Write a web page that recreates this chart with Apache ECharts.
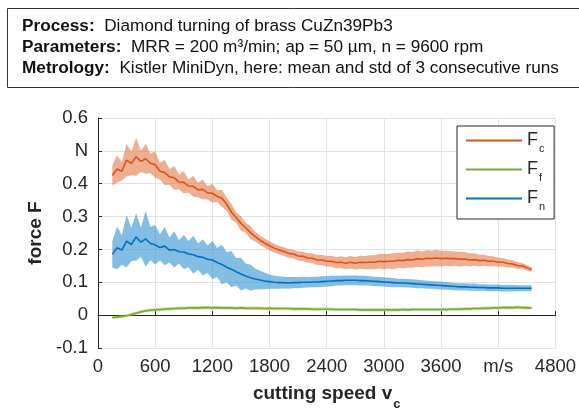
<!DOCTYPE html>
<html>
<head>
<meta charset="utf-8">
<script src="https://cdn.jsdelivr.net/npm/echarts@6/dist/echarts.min.js"></script>
<style>html,body{margin:0;padding:0;background:#fff}#c{width:579px;height:416px}</style>
</head>
<body>
<div id="c"></div>
<script>
// cutting speed samples (m/s)
const speeds = [150,200,250,300,350,400,450,500,550,600,
  650,700,750,800,850,900,950,1000,1050,1100,
  1150,1200,1250,1300,1350,1400,1450,1500,1550,1600,
  1650,1700,1750,1800,1850,1900,1950,2000,2050,2100,
  2150,2200,2250,2300,2350,2400,2450,2500,2550,2600,
  2650,2700,2750,2800,2850,2900,2950,3000,3050,3100,
  3150,3200,3250,3300,3350,3400,3450,3500,3550,3600,
  3650,3700,3750,3800,3850,3900,3950,4000,4050,4100,
  4150,4200,4250,4300,4350,4400,4450,4500,4550];
// F_c mean and std (N)
const fcMean = [0.425,0.445,0.438,0.472,0.462,0.482,0.468,0.476,0.462,0.458,
  0.438,0.434,0.421,0.418,0.405,0.404,0.393,0.392,0.381,0.383,
  0.372,0.371,0.362,0.356,0.338,0.314,0.297,0.279,0.266,0.251,
  0.239,0.228,0.219,0.211,0.204,0.198,0.194,0.188,0.186,0.180,
  0.179,0.174,0.173,0.168,0.168,0.164,0.164,0.160,0.161,0.158,
  0.161,0.158,0.161,0.160,0.161,0.161,0.164,0.163,0.164,0.164,
  0.167,0.166,0.169,0.168,0.172,0.170,0.173,0.172,0.174,0.172,
  0.173,0.172,0.172,0.170,0.171,0.168,0.169,0.166,0.167,0.164,
  0.164,0.161,0.161,0.157,0.156,0.151,0.150,0.144,0.139];
const fcStd = [0.030,0.042,0.028,0.050,0.036,0.058,0.032,0.046,0.030,0.040,
  0.026,0.038,0.024,0.036,0.022,0.034,0.020,0.032,0.022,0.030,
  0.020,0.028,0.018,0.026,0.020,0.024,0.016,0.022,0.015,0.020,
  0.015,0.014,0.014,0.014,0.013,0.013,0.013,0.013,0.013,0.014,
  0.014,0.014,0.015,0.015,0.016,0.016,0.017,0.017,0.018,0.018,
  0.019,0.019,0.020,0.020,0.021,0.021,0.022,0.023,0.022,0.024,
  0.023,0.024,0.025,0.024,0.025,0.024,0.025,0.024,0.025,0.024,
  0.023,0.023,0.022,0.022,0.021,0.020,0.019,0.018,0.017,0.016,
  0.015,0.014,0.013,0.012,0.011,0.010,0.009,0.008,0.007];
// F_f mean and std (N)
const ffMean = [-0.007,-0.006,-0.004,-0.002,0.002,0.006,0.010,0.013,0.015,0.016,
  0.017,0.018,0.019,0.020,0.021,0.021,0.022,0.022,0.022,0.023,
  0.023,0.022,0.023,0.022,0.022,0.022,0.021,0.022,0.021,0.021,
  0.021,0.021,0.020,0.021,0.020,0.020,0.020,0.020,0.019,0.019,
  0.019,0.019,0.018,0.018,0.018,0.018,0.018,0.017,0.017,0.017,
  0.017,0.017,0.016,0.016,0.016,0.016,0.016,0.016,0.016,0.016,
  0.016,0.017,0.016,0.017,0.017,0.017,0.017,0.017,0.017,0.017,
  0.017,0.018,0.018,0.018,0.019,0.019,0.020,0.020,0.021,0.021,
  0.022,0.022,0.023,0.023,0.023,0.024,0.023,0.022,0.022];
const ffStd = [0.004,0.004,0.005,0.004,0.005,0.005,0.004,0.005,0.005,0.005,
  0.005,0.005,0.005,0.005,0.005,0.005,0.005,0.005,0.005,0.005,
  0.005,0.005,0.005,0.005,0.005,0.005,0.005,0.005,0.005,0.005,
  0.005,0.005,0.005,0.005,0.005,0.005,0.005,0.005,0.005,0.005,
  0.005,0.005,0.005,0.005,0.005,0.005,0.005,0.005,0.005,0.005,
  0.005,0.005,0.005,0.005,0.005,0.005,0.005,0.005,0.005,0.005,
  0.005,0.005,0.005,0.005,0.005,0.005,0.005,0.005,0.005,0.005,
  0.005,0.005,0.005,0.005,0.005,0.005,0.005,0.005,0.005,0.005,
  0.005,0.005,0.005,0.005,0.005,0.005,0.005,0.005,0.004];
// F_n mean and std (N)
const fnMean = [0.185,0.205,0.198,0.225,0.215,0.238,0.222,0.232,0.218,0.214,
  0.206,0.210,0.198,0.200,0.193,0.192,0.186,0.184,0.178,0.176,
  0.170,0.168,0.160,0.154,0.146,0.140,0.132,0.125,0.119,0.114,
  0.110,0.107,0.104,0.102,0.100,0.099,0.099,0.098,0.099,0.099,
  0.100,0.100,0.101,0.101,0.102,0.103,0.104,0.105,0.105,0.106,
  0.106,0.106,0.105,0.105,0.104,0.103,0.102,0.101,0.100,0.099,
  0.098,0.098,0.097,0.096,0.095,0.094,0.093,0.092,0.091,0.090,
  0.089,0.088,0.087,0.086,0.086,0.085,0.085,0.084,0.084,0.083,
  0.083,0.083,0.082,0.082,0.082,0.082,0.082,0.082,0.082];
const fnStd = [0.040,0.065,0.045,0.080,0.050,0.072,0.045,0.085,0.050,0.060,
  0.040,0.058,0.038,0.055,0.036,0.052,0.040,0.058,0.040,0.055,
  0.042,0.058,0.044,0.060,0.046,0.055,0.042,0.050,0.038,0.040,
  0.032,0.028,0.025,0.022,0.020,0.019,0.018,0.018,0.017,0.017,
  0.017,0.016,0.016,0.016,0.016,0.016,0.016,0.015,0.015,0.015,
  0.015,0.015,0.015,0.015,0.014,0.014,0.014,0.014,0.014,0.014,
  0.013,0.013,0.013,0.013,0.013,0.012,0.012,0.012,0.012,0.012,
  0.012,0.011,0.011,0.011,0.011,0.011,0.011,0.010,0.010,0.010,
  0.010,0.010,0.010,0.010,0.010,0.009,0.009,0.009,0.009];
const xTickLabels = {0:'0',600:'600',1200:'1200',1800:'1800',2400:'2400',3000:'3000',3600:'3600',4200:'m/s',4800:'4800'};
const yTickLabels = {'-0.1':'-0.1','0':'0','0.1':'0.1','0.2':'0.2','0.3':'0.3','0.4':'0.4','0.5':'N','0.6':'0.6'};

const forces = [
  {name:'Fc', mean:fcMean, std:fcStd, line:'#D95319', band:'rgba(230,120,70,0.6)'},
  {name:'Fn', mean:fnMean, std:fnStd, line:'#0072BD', band:'rgba(50,145,210,0.6)'},
  {name:'Ff', mean:ffMean, std:ffStd, line:'#77AC30', band:'rgba(140,190,80,0.5)'}
];

const series = [];
forces.forEach(f => {
  series.push({
    type:'custom', silent:true, z:1, clip:true,
    data:[[speeds[0], f.mean[0]]],
    renderItem:(params, api) => {
      const up = speeds.map((v,i) => api.coord([v, f.mean[i] + f.std[i]]));
      const lo = speeds.map((v,i) => api.coord([v, f.mean[i] - f.std[i]])).reverse();
      return {type:'polygon', shape:{points: up.concat(lo)}, style:{fill:f.band, stroke:null}};
    }
  });
});
forces.forEach(f => {
  series.push({name:f.name, type:'line', showSymbol:false, symbol:'none', color:f.line,
    lineStyle:{color:f.line, width:1.6}, data: speeds.map((v,i)=>[v, f.mean[i]]), z:3});
});

const FONT = 'Liberation Sans, Arial, sans-serif';
const chart = echarts.init(document.getElementById('c'), null, {renderer:'canvas'});
chart.setOption({
  animation:false,
  backgroundColor:'#fff',
  textStyle:{fontFamily:FONT},
  title:{
    left:17, top:10.5,
    text:'{b|Process:}  Diamond turning of brass CuZn39Pb3\n{b|Parameters:}  MRR = 200 m³/min; ap = 50 µm, n = 9600 rpm\n{b|Metrology:}  Kistler MiniDyn, here: mean and std of 3 consecutive runs',
    textStyle:{fontSize:17.2, fontWeight:'normal', color:'#111', lineHeight:21, fontFamily:FONT,
      rich:{b:{fontWeight:'bold', fontSize:17.2, color:'#111', lineHeight:21, fontFamily:FONT}}}
  },
  graphic:[{type:'rect', z:-1, shape:{x:7.5, y:8.5, width:620, height:79}, style:{fill:'#fff', stroke:'#333', lineWidth:1}}],
  grid:{left:98, right:19, top:118, bottom:65},
  legend:{
    data:['Fc','Ff','Fn'], orient:'vertical', left:457, top:126,
    backgroundColor:'#fff', borderColor:'#262626', borderWidth:1, borderRadius:0,
    padding:[5.5,9,6.5,9], itemGap:6, icon:'rect', itemWidth:56, itemHeight:2, itemStyle:{borderWidth:0},
    formatter: n => '{F|F}{s|' + n.slice(1) + '}',
    textStyle:{color:'#262626', rich:{
      F:{fontSize:18, lineHeight:18, verticalAlign:'top', color:'#262626', fontFamily:FONT},
      s:{fontSize:11, lineHeight:11, verticalAlign:'top', padding:[12,0,0,1], color:'#262626', fontFamily:FONT}}}
  },
  xAxis:{
    type:'value', min:0, max:4800, interval:600,
    name:'{b|cutting speed v}{s|c}', nameLocation:'middle', nameGap:36,
    nameTextStyle:{rich:{
      b:{fontSize:19, fontWeight:'bold', color:'#262626', lineHeight:20, verticalAlign:'top', fontFamily:FONT},
      s:{fontSize:13, fontWeight:'bold', color:'#262626', lineHeight:13, verticalAlign:'top', padding:[14,0,0,1], fontFamily:FONT}}},
    axisLine:{lineStyle:{color:'#262626', width:1}},
    axisTick:{inside:true, length:4, lineStyle:{color:'#262626'}},
    axisLabel:{fontSize:18.5, color:'#262626', margin:9, formatter: v => xTickLabels[v] !== undefined ? xTickLabels[v] : ''},
    splitLine:{show:true, lineStyle:{color:'#e3e3e3', width:1}}
  },
  yAxis:{
    type:'value', min:-0.1, max:0.6, interval:0.1,
    name:'force F', nameLocation:'middle', nameGap:53, nameRotate:90,
    nameTextStyle:{fontSize:19, fontWeight:'bold', color:'#262626', fontFamily:FONT},
    axisLine:{show:true, lineStyle:{color:'#262626', width:1}},
    axisTick:{show:true, inside:true, length:4, lineStyle:{color:'#262626'}},
    axisLabel:{fontSize:18.5, color:'#262626', margin:10, formatter: v => { const k = String(Math.round(v*10)/10); return yTickLabels[k] !== undefined ? yTickLabels[k] : k; }},
    splitLine:{show:true, lineStyle:{color:'#e3e3e3', width:1}}
  },
  series: series
});
</script>
</body>
</html>
